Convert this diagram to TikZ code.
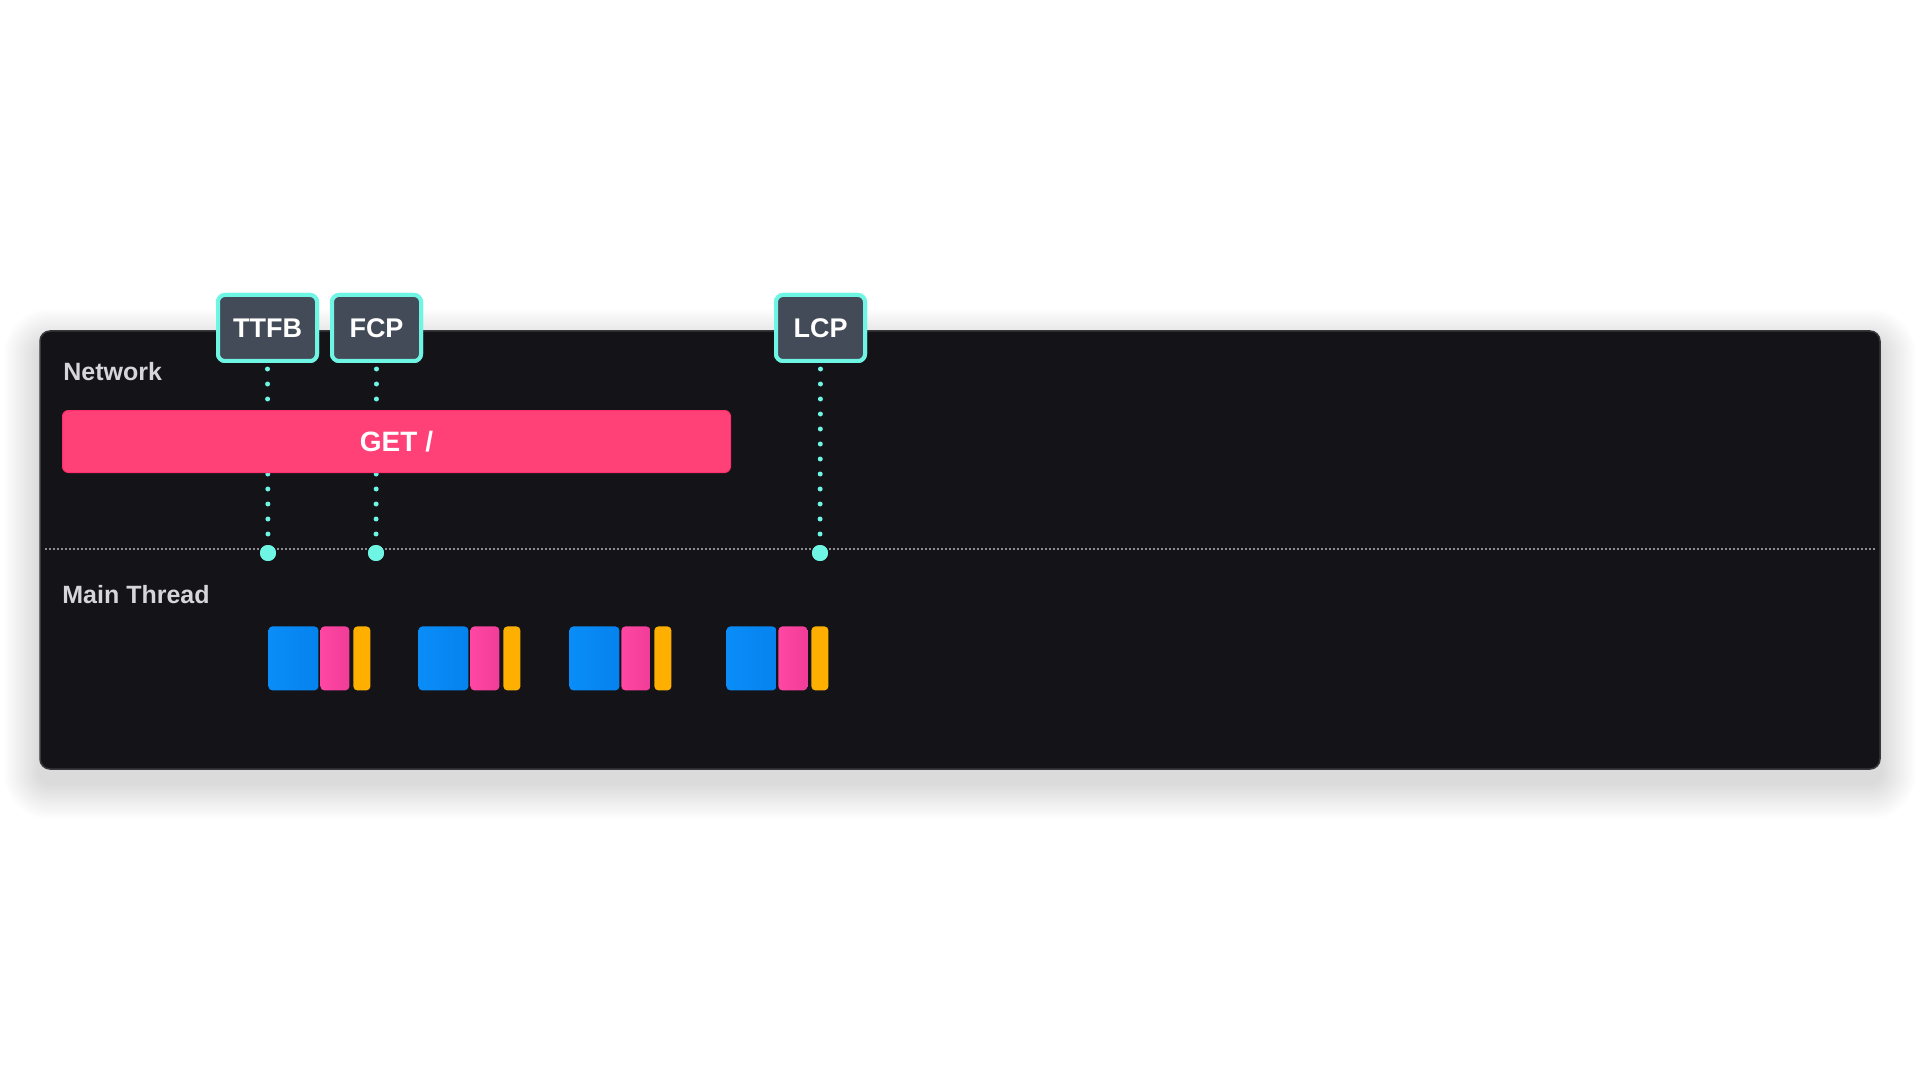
\documentclass[tikz,border=0pt]{standalone}
\usepackage{fontspec}
\setmainfont{Liberation Sans}
\definecolor{panelbg}{HTML}{131318}
\definecolor{panelborder}{HTML}{38383D}
\definecolor{cyanm}{HTML}{6EF5E3}
\definecolor{labelfill}{HTML}{434A58}
\definecolor{getred}{HTML}{FF4178}
\definecolor{getedge}{HTML}{FF2E6C}
\definecolor{tblue}{HTML}{0A8DF8}
\definecolor{tblued}{HTML}{0582EE}
\definecolor{tpink}{HTML}{FF46A3}
\definecolor{tpinkd}{HTML}{F03D98}
\definecolor{tyellow}{HTML}{FFAF00}
\definecolor{sepgray}{HTML}{8E8E94}
\definecolor{lbl}{HTML}{D6D6DA}
\tikzset{
  panelbox/.style={fill=panelbg, draw=panelborder, line width=0.75pt, rounded corners=5pt,
    inner sep=0pt, minimum width=920pt, minimum height=219pt},
  markerbox/.style={draw=cyanm, line width=2pt, fill=labelfill, rounded corners=3.5pt,
    minimum height=33pt, inner sep=0pt, text=white, font=\bfseries\fontsize{13.5}{13.5}\selectfont},
  getbar/.style={fill=getred, draw=getedge, line width=0.5pt, rounded corners=3pt,
    minimum width=334pt, minimum height=31pt, inner sep=0pt, text=white,
    font=\bfseries\fontsize{14}{14}\selectfont},
  rowlabel/.style={anchor=base west, inner sep=0pt, text=lbl, font=\bfseries\fontsize{12.5}{12.5}\selectfont},
  markdot/.style={circle, fill=cyanm, minimum size=8pt, inner sep=0pt},
  conn/.style={draw=cyanm, line width=2.5pt, line cap=round, dash pattern=on 0pt off 7.5pt},
  sepline/.style={draw=sepgray, line width=0.75pt, dash pattern=on 0.75pt off 1.25pt},
  taskbox/.style={anchor=north west, rounded corners=2pt, inner sep=0pt, minimum height=32pt},
  tb/.style={taskbox, left color=tblue, right color=tblued, minimum width=25pt},
  tp/.style={taskbox, left color=tpink, right color=tpinkd, minimum width=14.5pt},
  ty/.style={taskbox, fill=tyellow, minimum width=8.5pt},
  shadowlayer/.style={fill=black, opacity=0.007},
}
\begin{document}
\begin{tikzpicture}[x=0.5pt,y=-0.5pt]
\useasboundingbox (0,0) rectangle (1920,1080);
\fill[white] (0,0) rectangle (1920,1080);

% soft shadow
\foreach \k in {1,...,18}{
  \pgfmathsetmacro{\rr}{5+\k}
  \fill[shadowlayer, rounded corners=\rr pt]
    (40-2*\k,331-2*\k+14) rectangle (1880+2*\k,769+2*\k+14);
}

\node[panelbox] (panel) at (960,550) {};

% separator
\coordinate (sepL) at (45,549);
\coordinate (sepR) at (1875,549);
\draw[sepline] (sepL) -- (sepR);

% marker boxes
\node[markerbox, minimum width=49.5pt] (m1) at (267.5,328) {TTFB};
\node[markerbox, minimum width=44.5pt] (m2) at (376.5,328) {FCP};
\node[markerbox, minimum width=44.5pt] (m3) at (820.5,328) {LCP};

% dots
\node[markdot] (d1) at (268,553) {};
\node[markdot] (d2) at (376,553) {};
\node[markdot] (d3) at (820,553) {};

% connectors
\draw[conn] ([yshift=-3pt]m1.south) -- ([yshift=4pt]d1.center);
\draw[conn] ([yshift=-3pt]m2.south) -- ([yshift=4pt]d2.center);
\draw[conn] ([yshift=-3pt]m3.south) -- ([yshift=4pt]d3.center);

% redraw boxes and dots on top
\node[markerbox, minimum width=49.5pt] at (m1) {TTFB};
\node[markerbox, minimum width=44.5pt] at (m2) {FCP};
\node[markerbox, minimum width=44.5pt] at (m3) {LCP};
\node[markdot] at (d1) {};
\node[markdot] at (d2) {};
\node[markdot] at (d3) {};

% network row
\node[rowlabel] (net) at (63,380) {Network};
\node[getbar] (get) at (396.5,441.5) {GET /};

% main thread row
\node[rowlabel] (main) at (62,603) {Main Thread};
\foreach \gx/\i in {268/1,418/2,569/3,726/4}{
  \node[tb] (b\i) at (\gx,626) {};
  \node[tp] (p\i) at (\gx+52,626) {};
  \node[ty] (y\i) at (\gx+85,626) {};
}
\end{tikzpicture}
\end{document}
